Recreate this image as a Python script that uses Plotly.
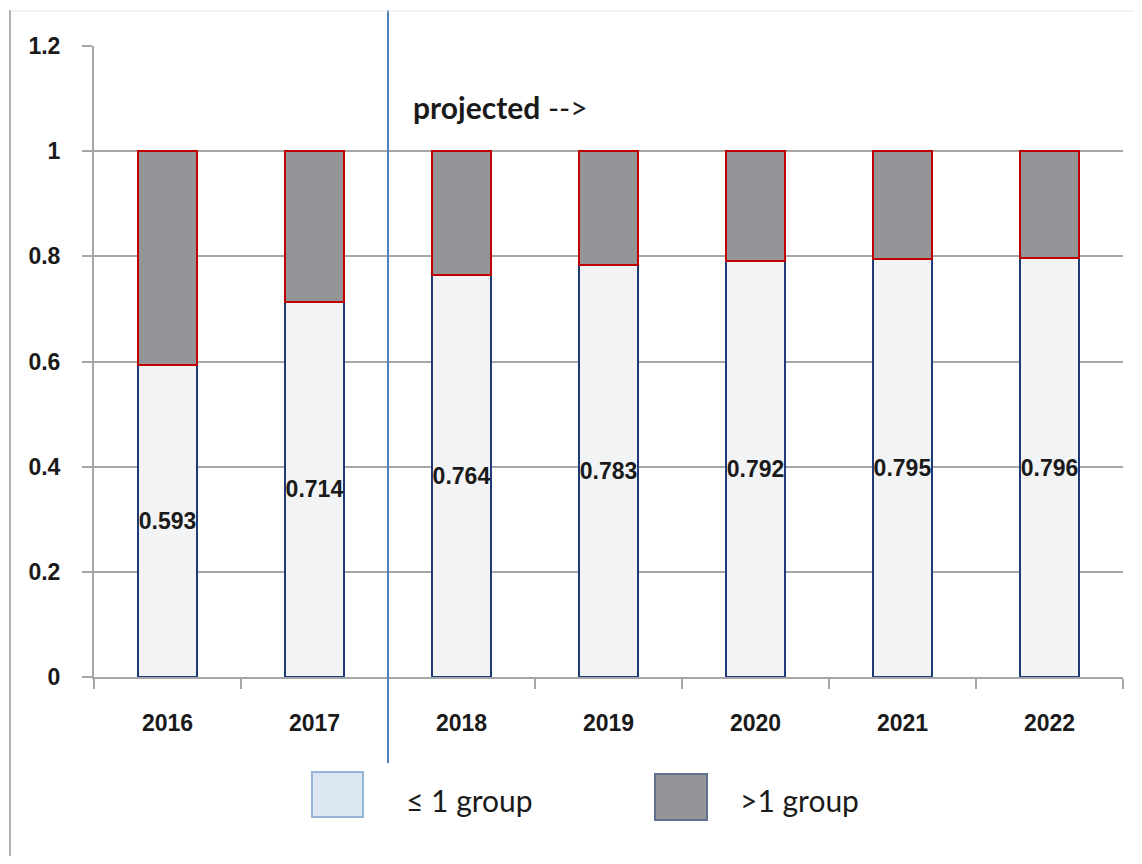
import plotly.graph_objects as go

# ---- data ----
years = ["2016", "2017", "2018", "2019", "2020", "2021", "2022"]
le_one_group = [0.593, 0.714, 0.764, 0.783, 0.792, 0.795, 0.796]
gt_one_group = [0.407, 0.286, 0.236, 0.217, 0.208, 0.205, 0.204]
series_names = ["\u2264 1 group", ">1 group"]
value_labels = ["0.593", "0.714", "0.764", "0.783", "0.792", "0.795", "0.796"]
y_ticks = [0, 0.2, 0.4, 0.6, 0.8, 1, 1.2]
y_tick_text = ["0", "0.2", "0.4", "0.6", "0.8", "1", "1.2"]

# ---- layout geometry (pixels, page offset 8px by body margin) ----
OFF = 8
W, H = 1142 - 2 * OFF, 864 - 2 * OFF
PL, PR, PT, PB = 94, 1123, 46, 677  # plot area on screen
ML, MR, MT, MB = PL - OFF, W - (PR - OFF), PT - OFF, H - (PB - OFF)
PW, PH = W - ML - MR, H - MT - MB


def px_x(px):
    return (px - OFF - ML) / PW


def px_y(py):
    return (H - MB - (py - OFF)) / PH


GRID = "#a6a6a6"
TXT = "#1a1a1a"

fig = go.Figure()
fig.add_trace(go.Bar(
    x=years, y=le_one_group, name=series_names[0],
    marker=dict(color="#f2f3f5", line=dict(color="#1f3a78", width=2)),
    text=value_labels, textposition="inside", insidetextanchor="middle",
    constraintext="none", textangle=0,
    textfont=dict(family="Liberation Sans, Arial", size=23, color=TXT, weight="bold"),
    width=0.40,
))
fig.add_trace(go.Bar(
    x=years, y=gt_one_group, name=series_names[1],
    marker=dict(color="#939598", line=dict(color="#c00000", width=2)),
    width=0.40,
))

shapes = []
# vertical "projected" divider between 2017 and 2018
shapes.append(dict(type="line", xref="x", yref="paper", x0=1.5, x1=1.5,
                   y0=px_y(763), y1=px_y(10),
                   line=dict(color="#4f81bd", width=2), layer="above"))
# chart-area border lines
shapes.append(dict(type="line", xref="paper", yref="paper",
                   x0=px_x(10), x1=px_x(10), y0=px_y(10), y1=px_y(880),
                   line=dict(color="#b0b0b0", width=2)))
shapes.append(dict(type="line", xref="paper", yref="paper",
                   x0=px_x(10), x1=px_x(1160), y0=px_y(11), y1=px_y(11),
                   line=dict(color="#e6e6e6", width=1)))
# legend swatches
shapes.append(dict(type="rect", xref="paper", yref="paper",
                   x0=px_x(312), x1=px_x(363), y0=px_y(817), y1=px_y(772),
                   fillcolor="#dce6f2", line=dict(color="#95b3d7", width=2)))
shapes.append(dict(type="rect", xref="paper", yref="paper",
                   x0=px_x(655), x1=px_x(707), y0=px_y(820), y1=px_y(774),
                   fillcolor="#939598", line=dict(color="#5f6f8f", width=2)))

annotations = [
    dict(xref="paper", yref="paper", x=px_x(411), y=px_y(107),
         xanchor="left", yanchor="middle", showarrow=False,
         text="<b>projected</b> -->",
         font=dict(family="Lato, Open Sans, sans-serif", size=30, color=TXT)),
    dict(xref="paper", yref="paper", x=px_x(404), y=px_y(800),
         xanchor="left", yanchor="middle", showarrow=False,
         text=series_names[0],
         font=dict(family="Lato, Open Sans, sans-serif", size=30, color=TXT)),
    dict(xref="paper", yref="paper", x=px_x(738), y=px_y(800),
         xanchor="left", yanchor="middle", showarrow=False,
         text=series_names[1],
         font=dict(family="Lato, Open Sans, sans-serif", size=30, color=TXT)),
]

fig.update_layout(
    width=W, height=H,
    margin=dict(l=ML, r=MR, t=MT, b=MB, pad=0),
    barmode="stack",
    showlegend=False,
    plot_bgcolor="white", paper_bgcolor="white",
    shapes=shapes, annotations=annotations,
    xaxis=dict(
        type="category", range=[-0.5, 6.5],
        showline=True, linecolor=GRID, linewidth=2,
        ticks="outside", tickson="boundaries", ticklen=10, tickwidth=2, tickcolor=GRID,
        showgrid=False, ticklabelstandoff=24,
        tickfont=dict(family="Liberation Sans, Arial", size=23, color=TXT, weight="bold"),
    ),
    yaxis=dict(
        range=[0, 1.2], tickvals=y_ticks, ticktext=y_tick_text,
        showline=True, linecolor=GRID, linewidth=2,
        showgrid=True, gridcolor=GRID, gridwidth=2, zeroline=False,
        ticks="outside", ticklen=10, tickwidth=2, tickcolor=GRID,
        ticklabelstandoff=17,
        tickfont=dict(family="Liberation Sans, Arial", size=23, color=TXT, weight="bold"),
    ),
)

fig.write_html("out.html")
